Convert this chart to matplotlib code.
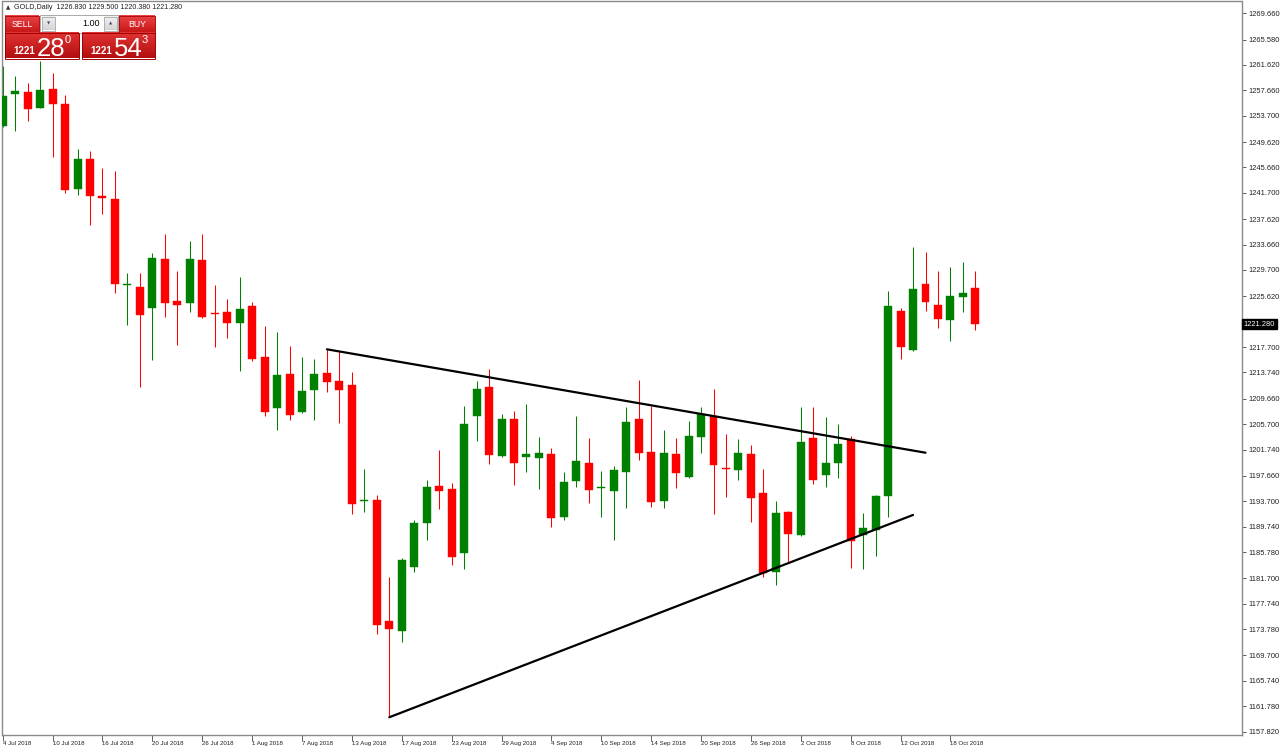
import matplotlib
matplotlib.use('Agg')
import matplotlib.pyplot as plt
import numpy as np

plt.rcParams['font.family'] = ['Liberation Sans', 'DejaVu Sans']

# ---------------- data ----------------
date_labels = ['4 Jul 2018', '10 Jul 2018', '16 Jul 2018', '20 Jul 2018', '26 Jul 2018',
               '1 Aug 2018', '7 Aug 2018', '13 Aug 2018', '17 Aug 2018', '23 Aug 2018',
               '29 Aug 2018', '4 Sep 2018', '10 Sep 2018', '14 Sep 2018', '20 Sep 2018',
               '26 Sep 2018', '2 Oct 2018', '8 Oct 2018', '12 Oct 2018', '18 Oct 2018']
label_every = 4

opens = [1252.11, 1257.05, 1257.41, 1254.96, 1257.83, 1255.49, 1242.26, 1246.98, 1241.26, 1240.70,
         1227.30, 1227.10, 1223.78, 1231.36, 1224.87, 1224.51, 1231.21, 1223.05, 1223.11, 1221.45,
         1224.04, 1216.20, 1208.26, 1213.51, 1207.64, 1211.01, 1213.61, 1212.37, 1211.79, 1193.72,
         1193.94, 1175.01, 1173.54, 1183.51, 1190.31, 1196.07, 1195.65, 1185.59, 1207.01, 1211.48,
         1200.79, 1206.50, 1200.54, 1200.38, 1201.10, 1191.29, 1196.80, 1199.65, 1195.75, 1195.29,
         1198.20, 1206.50, 1201.41, 1193.78, 1201.00, 1197.42, 1203.65, 1207.01, 1198.80, 1198.56,
         1201.00, 1194.93, 1182.63, 1192.07, 1188.44, 1203.50, 1197.78, 1199.60, 1203.39, 1188.44,
         1189.22, 1194.51, 1223.36, 1217.24, 1227.47, 1224.29, 1221.91, 1225.54, 1226.83]
highs = [1261.46, 1259.90, 1258.86, 1262.23, 1260.41, 1256.94, 1248.53, 1248.22, 1245.62, 1245.11,
         1229.18, 1229.18, 1232.39, 1235.30, 1229.54, 1234.26, 1235.30, 1227.31, 1225.18, 1228.56,
         1224.76, 1221.03, 1220.00, 1217.91, 1216.20, 1215.84, 1217.35, 1217.13, 1213.77, 1198.67,
         1194.67, 1181.95, 1184.81, 1190.73, 1197.00, 1201.63, 1196.49, 1208.48, 1212.37, 1214.28,
         1207.28, 1207.75, 1208.79, 1203.74, 1201.94, 1198.30, 1206.97, 1203.50, 1198.45, 1199.23,
         1208.37, 1212.57, 1208.57, 1204.79, 1203.50, 1206.24, 1208.42, 1211.12, 1204.16, 1203.34,
         1202.45, 1198.67, 1193.78, 1192.20, 1208.32, 1208.32, 1206.76, 1205.72, 1203.90, 1191.82,
         1194.67, 1226.43, 1223.73, 1233.32, 1232.50, 1229.54, 1230.12, 1230.90, 1229.50]
lows = [1251.90, 1251.34, 1252.89, 1254.90, 1247.34, 1241.73, 1241.37, 1236.70, 1238.37, 1226.07,
        1221.13, 1211.44, 1215.69, 1222.33, 1218.02, 1223.20, 1222.30, 1217.66, 1219.06, 1213.97,
        1215.53, 1207.01, 1204.79, 1206.34, 1207.50, 1206.34, 1210.66, 1205.83, 1191.66, 1191.97,
        1173.03, 1160.06, 1171.78, 1182.63, 1187.61, 1192.49, 1183.72, 1183.10, 1203.08, 1199.54,
        1200.63, 1196.22, 1198.20, 1195.65, 1189.64, 1190.78, 1195.87, 1193.38, 1191.29, 1187.66,
        1192.60, 1200.12, 1192.85, 1192.69, 1195.71, 1197.30, 1201.16, 1191.71, 1194.40, 1197.00,
        1190.42, 1181.85, 1180.66, 1184.28, 1188.30, 1196.38, 1195.96, 1197.27, 1183.26, 1183.10,
        1185.17, 1191.20, 1215.79, 1217.10, 1223.36, 1220.62, 1218.69, 1223.11, 1220.38]
closes = [1256.78, 1257.56, 1254.81, 1257.72, 1255.59, 1242.15, 1246.98, 1241.26, 1240.95, 1227.52,
          1227.42, 1222.69, 1231.56, 1224.51, 1224.25, 1231.36, 1222.43, 1222.80, 1221.45, 1223.62,
          1215.84, 1207.64, 1213.40, 1207.12, 1210.86, 1213.51, 1212.26, 1211.01, 1193.31, 1193.84,
          1174.38, 1173.81, 1184.50, 1190.31, 1195.91, 1195.29, 1184.97, 1205.72, 1211.12, 1200.85,
          1206.50, 1199.65, 1201.00, 1201.16, 1191.13, 1196.65, 1199.91, 1195.49, 1195.85, 1198.56,
          1206.03, 1201.21, 1193.53, 1201.16, 1198.05, 1203.90, 1207.23, 1199.29, 1198.68, 1201.16,
          1194.15, 1182.48, 1191.91, 1188.60, 1202.87, 1197.00, 1199.70, 1202.61, 1187.55, 1189.48,
          1194.51, 1224.09, 1217.66, 1226.69, 1224.76, 1222.07, 1225.70, 1226.07, 1221.28]

y_ticks = [1269.660, 1265.580, 1261.620, 1257.660, 1253.700, 1249.620, 1245.660, 1241.700,
           1237.620, 1233.660, 1229.700, 1225.620, 1217.700, 1213.740, 1209.660, 1205.700,
           1201.740, 1197.660, 1193.700, 1189.740, 1185.780, 1181.700, 1177.740, 1173.780,
           1169.700, 1165.740, 1161.780, 1157.820]
current_price = 1221.280

upper_line_x = [26, 74]
upper_line_y = [1217.35, 1201.25]
lower_line_x = [31, 73]
lower_line_y = [1160.06, 1191.56]

header = 'GOLD,Daily  1226.830 1229.500 1220.380 1221.280'
sell_big, sell_small, sell_sup = '1221', '28', '0'
buy_big, buy_small, buy_sup = '1221', '54', '3'
lot = '1.00'

# ---------------- figure ----------------
W, H = 1280, 751
fig = plt.figure(figsize=(W / 100, H / 100), dpi=100)
fig.patch.set_facecolor('white')

ax_left, ax_right, ax_top, ax_bot = 2, 1242, 1.5, 735
ax = fig.add_axes([ax_left / W, (H - ax_bot) / H, (ax_right - ax_left) / W, (ax_bot - ax_top) / H])
ax.set_facecolor('white')

n = len(opens)
x = np.arange(n)
o = np.array(opens); c = np.array(closes); h = np.array(highs); l = np.array(lows)
up = c >= o
GREEN, RED = '#008000', '#FF0000'
cols = np.where(up, GREEN, RED)

ax.vlines(x, l, h, colors=cols, linewidth=0.75, zorder=2)
bottoms = np.minimum(o, c)
heights = np.maximum(np.abs(c - o), 0.22)
ax.bar(x, heights, bottom=bottoms, width=0.64, color=cols, edgecolor=cols, linewidth=0.3, zorder=3)

ax.plot(upper_line_x, upper_line_y, color='black', linewidth=1.6, zorder=4, solid_capstyle='round')
ax.plot(lower_line_x, lower_line_y, color='black', linewidth=1.6, zorder=4, solid_capstyle='round')

ax.set_xlim(-0.056, 99.38)
ax.set_ylim(1157.30, 1271.50)

ax.yaxis.tick_right()
ax.set_yticks(y_ticks)
ax.set_yticklabels([f'{v:.3f}' for v in y_ticks])
ax.tick_params(axis='y', direction='out', length=3, width=0.7, color='#606060',
               labelsize=5.4, pad=1.5, labelcolor='#202020')

ax.set_xticks(x[::label_every][:len(date_labels)])
ax.set_xticklabels(date_labels)
for lbl in ax.get_xticklabels():
    lbl.set_horizontalalignment('left')
ax.tick_params(axis='x', direction='out', length=4, width=0.7, color='#606060',
               labelsize=4.4, pad=0.6, labelcolor='#202020')

for sp in ax.spines.values():
    sp.set_color('#8a8a8a')
    sp.set_linewidth(1.0)

# current price tag
ax.text(1.0 + 1.5 / (ax_right - ax_left), current_price, f'{current_price:.3f}',
        transform=ax.get_yaxis_transform(), ha='left', va='center', fontsize=5.4,
        color='white', zorder=10, clip_on=False,
        bbox=dict(boxstyle='square,pad=0.25', facecolor='black', edgecolor='black'))

# ---------------- overlay (trading panel) ----------------
ov = fig.add_axes([0, 0, 1, 1])
ov.patch.set_visible(False)
ov.axis('off')


def grad_rect(x0, y0, w, hgt, ctop, cbot, edge=None):
    ct = np.array(matplotlib.colors.to_rgb(ctop))
    cb = np.array(matplotlib.colors.to_rgb(cbot))
    t = np.linspace(0, 1, 32)[:, None, None]
    img = ct * (1 - t) + cb * t
    img = np.repeat(img, 2, axis=1)
    ov.imshow(img, extent=(x0, x0 + w, y0 + hgt, y0), aspect='auto', zorder=5, interpolation='bilinear')
    if edge:
        ov.add_patch(plt.Rectangle((x0, y0), w, hgt, fill=False, edgecolor=edge, linewidth=0.7, zorder=6))


ov.text(6, 7.5, '▲', fontsize=4, ha='left', va='center', color='#303030', family=['DejaVu Sans'])
ov.text(14, 7.5, header, fontsize=5.15, ha='left', va='center', color='#202020')

# SELL / BUY buttons
grad_rect(5, 16, 34, 16.5, '#ec4448', '#c81818', '#b01010')
grad_rect(119, 16, 36, 16.5, '#ec4448', '#c81818', '#b01010')
ov.text(22, 24.5, 'SELL', fontsize=6.3, color='white', ha='center', va='center', zorder=7)
ov.text(137, 24.5, 'BUY', fontsize=6.3, color='white', ha='center', va='center', zorder=7)

# lot box
ov.add_patch(plt.Rectangle((40, 15), 78, 17.5, facecolor='white', edgecolor='#a8a8a8', linewidth=0.7, zorder=5))
grad_rect(42, 17, 13, 13.5, '#f2f2f2', '#d4d4d4', '#b0b0b0')
grad_rect(104, 17, 13, 13.5, '#f2f2f2', '#d4d4d4', '#b0b0b0')
ov.text(48.5, 23.5, '▼', fontsize=3, ha='center', va='center', color='#404a70', zorder=7, family=['DejaVu Sans'])
ov.text(110.5, 23.5, '▲', fontsize=3, ha='center', va='center', color='#404a70', zorder=7, family=['DejaVu Sans'])
ov.text(100, 23.5, lot, fontsize=6.5, ha='right', va='center', color='black', zorder=7)

# price boxes
grad_rect(5, 33, 74, 25.5, '#e23434', '#b40e0e', '#a00000')
grad_rect(82, 33, 73, 25.5, '#e23434', '#b40e0e', '#a00000')
ov.text(13, 54.5, sell_big, fontsize=7, fontweight='bold', color='white', ha='left', va='baseline', zorder=7)
ov.text(37, 55.5, sell_small, fontsize=18.5, color='white', ha='left', va='baseline', zorder=7)
ov.text(65, 43, sell_sup, fontsize=8, color='white', ha='left', va='baseline', zorder=7)
ov.text(90, 54.5, buy_big, fontsize=7, fontweight='bold', color='white', ha='left', va='baseline', zorder=7)
ov.text(114, 55.5, buy_small, fontsize=18.5, color='white', ha='left', va='baseline', zorder=7)
ov.text(142, 43, buy_sup, fontsize=8, color='white', ha='left', va='baseline', zorder=7)

ov.set_xlim(0, W)
ov.set_ylim(H, 0)

fig.savefig('out.png', dpi=100, facecolor='white')
